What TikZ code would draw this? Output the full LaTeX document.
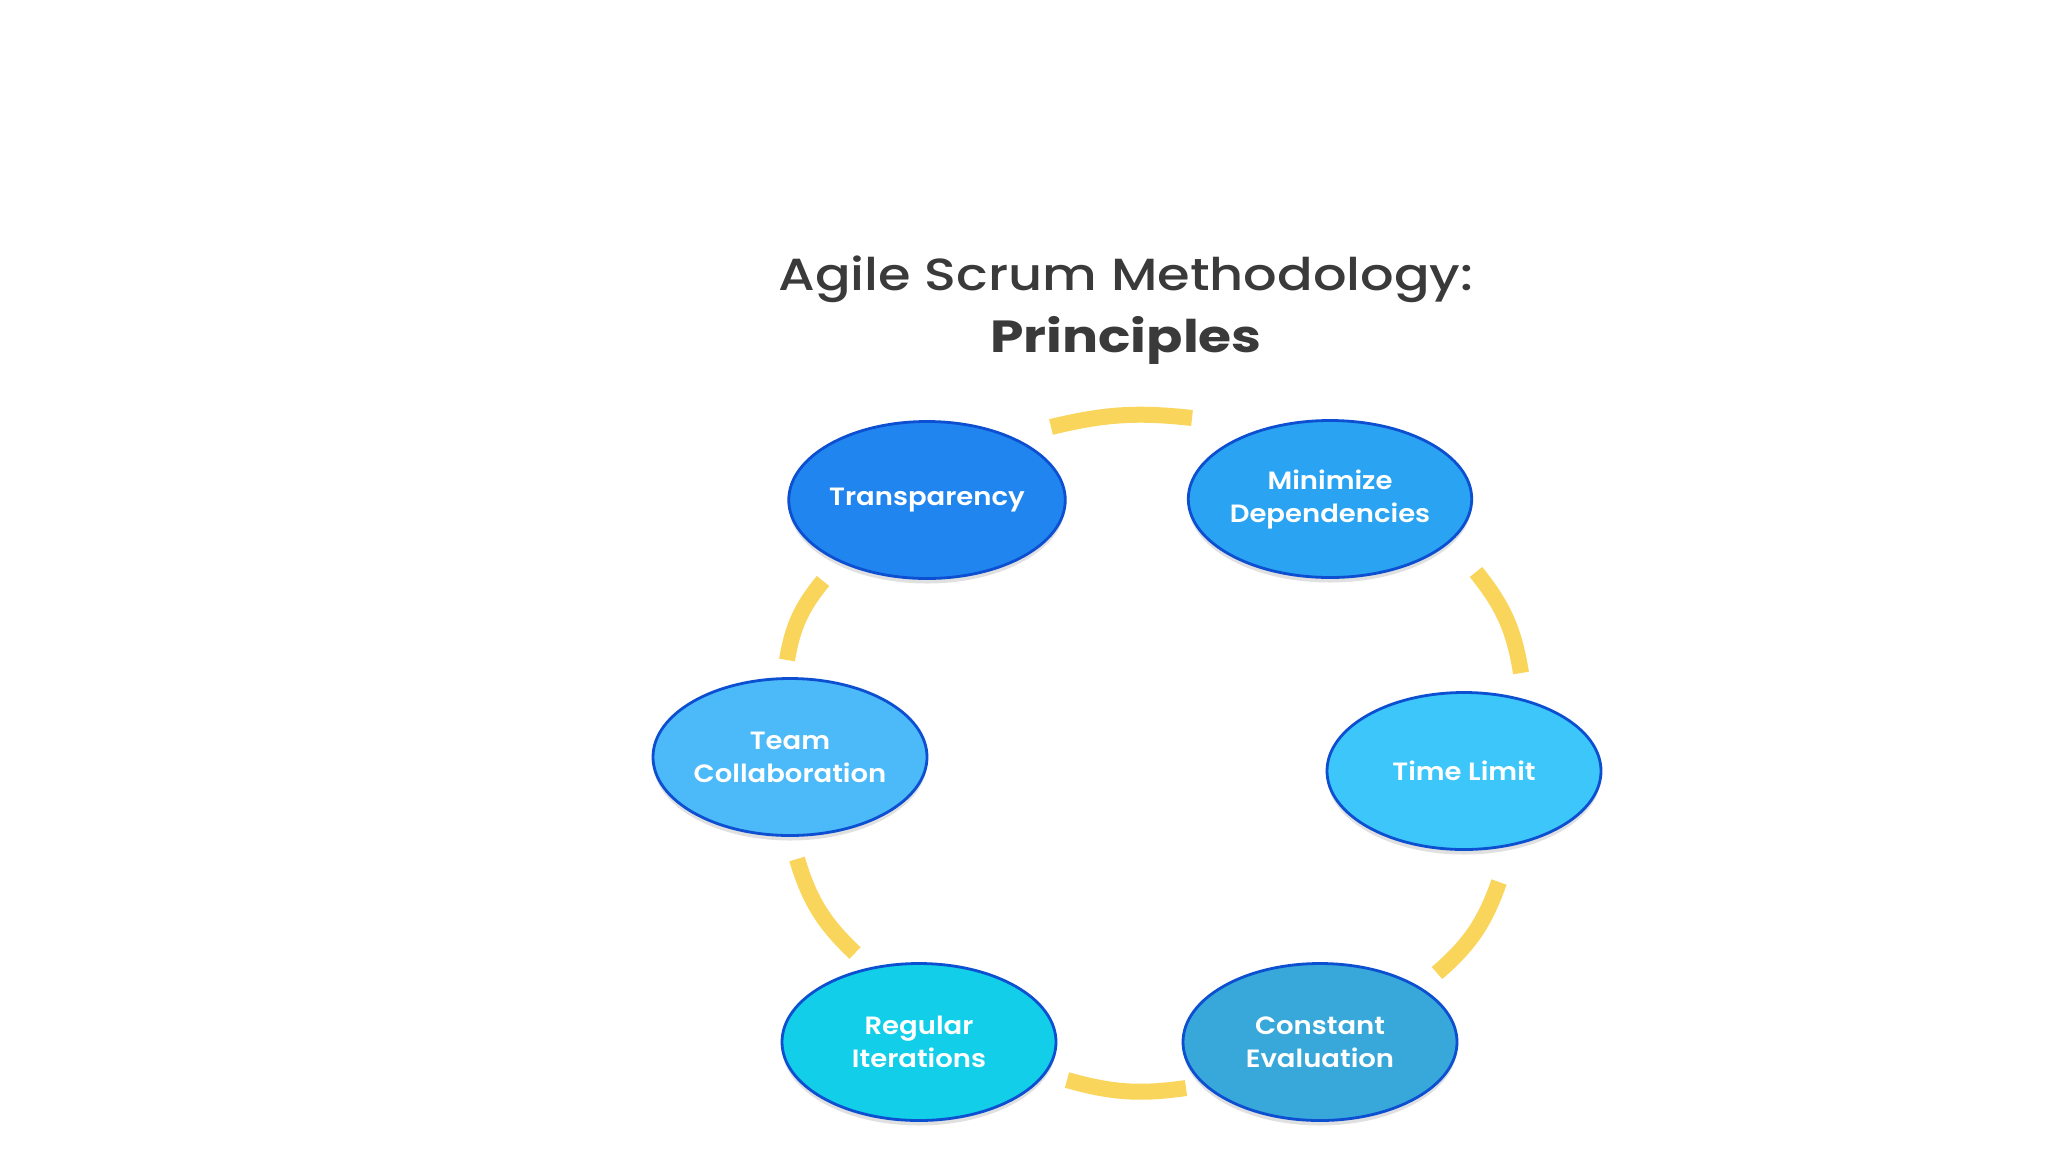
\documentclass[tikz,border=0pt]{standalone}
\usepackage{fontspec}
\setmainfont{Poppins}
\newfontfamily\titlefont[FakeStretch=1.17]{Poppins Medium}
\newfontfamily\titlebold[FakeStretch=1.19]{Poppins Bold}
\newfontfamily\labelfont[FakeStretch=1.1]{Poppins SemiBold}
\usetikzlibrary{shapes.geometric,shadows}
\definecolor{titlegray}{HTML}{3A3A3A}
\definecolor{cTrans}{HTML}{2185F0}
\definecolor{cMin}{HTML}{29A3F2}
\definecolor{cTeam}{HTML}{4CB9F9}
\definecolor{cTime}{HTML}{3CC6F9}
\definecolor{cReg}{HTML}{12CEE8}
\definecolor{cConst}{HTML}{38A7D9}
\definecolor{cBorder}{HTML}{0D4FD1}
\definecolor{cYellow}{HTML}{F9D55B}
\tikzset{
  pr/.style={ellipse, draw=cBorder, line width=2.8pt, minimum width=274pt, minimum height=157pt,
    inner sep=0pt, text=white, align=center, font=\labelfont\fontsize{25}{33}\selectfont,
    drop shadow={shadow xshift=0pt, shadow yshift=-5pt, opacity=0.12, fill=black}},
  ring/.style={draw=cYellow, line width=16pt, line cap=butt},
  ttl/.style={text=titlegray, align=center, font=\titlefont\fontsize{45}{62}\selectfont}
}
\begin{document}
\begin{tikzpicture}[x=1pt,y=1pt]
\useasboundingbox[fill=white] (0,0) rectangle (2048,-1152);
\node[ttl] (title) at (1126,-310) {Agile Scrum Methodology:\\{\titlebold Principles}};
% ring segments
\coordinate (a1s) at (1051,-427); \coordinate (a1e) at (1192,-418);
\coordinate (a2s) at (1476,-572); \coordinate (a2e) at (1521,-673);
\coordinate (a3s) at (1499,-882); \coordinate (a3e) at (1437,-973);
\coordinate (a4s) at (1186,-1088); \coordinate (a4e) at (1067,-1080);
\coordinate (a5s) at (855,-953); \coordinate (a5e) at (797,-859);
\coordinate (a6s) at (787,-660); \coordinate (a6e) at (823,-581);
\draw[ring] (a1s) to[bend left=10] (a1e);
\draw[ring] (a2s) to[bend left=15] (a2e);
\draw[ring] (a3s) to[bend left=15] (a3e);
\draw[ring] (a4s) to[bend left=12] (a4e);
\draw[ring] (a5s) to[bend left=15] (a5e);
\draw[ring] (a6s) to[bend left=15] (a6e);
% principles
\node[pr, fill=cTrans] (trans) at (927,-500) {Transparency};
\node[pr, fill=cMin] (mind) at (1330,-499) {Minimize\\Dependencies};
\node[pr, fill=cTeam] (team) at (790,-757) {Team\\Collaboration};
\node[pr, fill=cTime] (time) at (1464,-771) {Time Limit};
\node[pr, fill=cReg] (reg) at (919,-1042) {Regular\\Iterations};
\node[pr, fill=cConst] (const) at (1320,-1042) {Constant\\Evaluation};
\end{tikzpicture}
\end{document}
